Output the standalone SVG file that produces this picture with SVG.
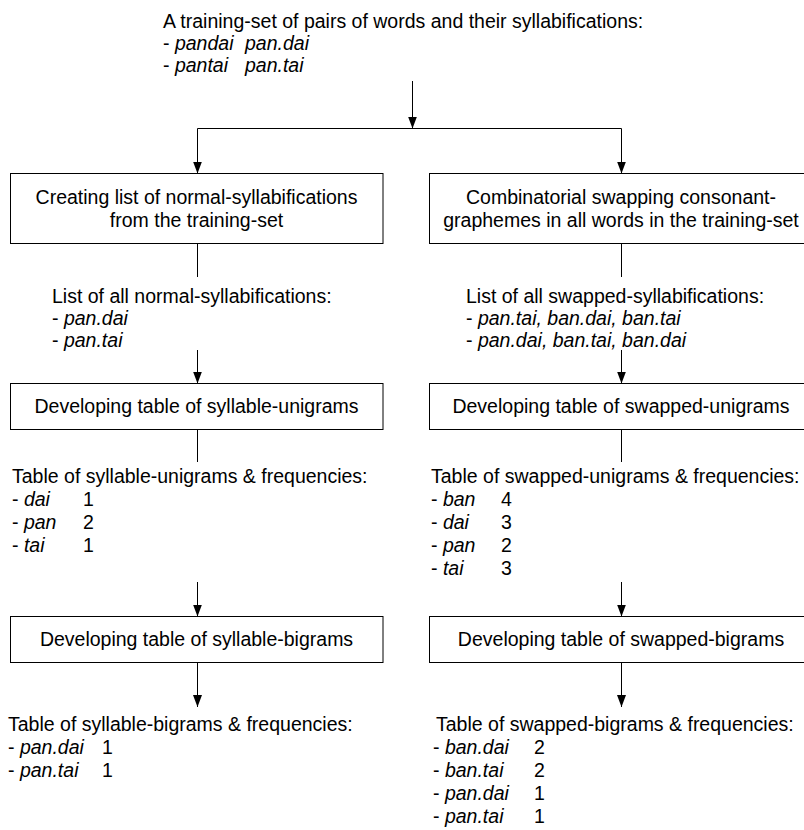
<svg xmlns="http://www.w3.org/2000/svg" width="804" height="830" viewBox="0 0 804 830">
<defs>
<style>
text{font-family:"Liberation Sans",Arial,sans-serif;font-size:19.5px;fill:#000}
.c{text-anchor:middle}
.i{font-style:italic}
.box{fill:#fff;stroke:#000;stroke-width:1}
.ln{stroke:#000;stroke-width:1;fill:none}
.ar{marker-end:url(#ah)}
</style>
<marker id="ah" markerUnits="userSpaceOnUse" markerWidth="12" markerHeight="10" refX="12" refY="4.5" orient="auto">
<path d="M0,0 L12,4.5 L0,9 z" fill="#000"/>
</marker>
</defs>
<rect width="804" height="830" fill="#fff"/>

<g id="connectors">
<line class="ln ar" x1="412.5" y1="81" x2="412.5" y2="128.5"/>
<line class="ln" x1="197.5" y1="128.5" x2="621.5" y2="128.5"/>
<line class="ln ar" x1="197.5" y1="128.5" x2="197.5" y2="173.5"/>
<line class="ln ar" x1="621.5" y1="128.5" x2="621.5" y2="173.5"/>
<line class="ln" x1="197.5" y1="243.5" x2="197.5" y2="277"/>
<line class="ln" x1="621.5" y1="243.5" x2="621.5" y2="277"/>
<line class="ln ar" x1="197.5" y1="350" x2="197.5" y2="383.5"/>
<line class="ln ar" x1="621.5" y1="350" x2="621.5" y2="383.5"/>
<line class="ln" x1="197.5" y1="429.5" x2="197.5" y2="462"/>
<line class="ln" x1="621.5" y1="429.5" x2="621.5" y2="462"/>
<line class="ln ar" x1="197.5" y1="582" x2="197.5" y2="616.5"/>
<line class="ln ar" x1="621.5" y1="582" x2="621.5" y2="616.5"/>
<line class="ln ar" x1="197.5" y1="662.5" x2="197.5" y2="707"/>
<line class="ln ar" x1="621.5" y1="662.5" x2="621.5" y2="707"/>
</g>

<g id="training-set">
<text x="163" y="28">A training-set of pairs of words and their syllabifications:</text>
<text x="163" y="50">- <tspan class="i">pandai</tspan><tspan class="i" x="245">pan.dai</tspan></text>
<text x="163" y="72">- <tspan class="i">pantai</tspan><tspan class="i" x="245">pan.tai</tspan></text>
</g>

<g id="create-normal">
<rect class="box" x="10.5" y="173.5" width="372.5" height="70"/>
<text class="c" x="196.5" y="204">Creating list of normal-syllabifications</text>
<text class="c" x="196.5" y="227">from the training-set</text>
</g>

<g id="combinatorial-swapping">
<rect class="box" x="429.5" y="173.5" width="384" height="70"/>
<text class="c" x="621" y="204">Combinatorial swapping consonant-</text>
<text class="c" x="621" y="227">graphemes in all words in the training-set</text>
</g>

<g id="normal-list">
<text x="52" y="303">List of all normal-syllabifications:</text>
<text x="52" y="325">- <tspan class="i">pan.dai</tspan></text>
<text x="52" y="347">- <tspan class="i">pan.tai</tspan></text>
</g>

<g id="swapped-list">
<text x="466" y="303">List of all swapped-syllabifications:</text>
<text x="466" y="325">- <tspan class="i">pan.tai, ban.dai, ban.tai</tspan></text>
<text x="466" y="347">- <tspan class="i">pan.dai, ban.tai, ban.dai</tspan></text>
</g>

<g id="syllable-unigrams-step">
<rect class="box" x="10.5" y="383.5" width="372.5" height="46"/>
<text class="c" x="196.5" y="413">Developing table of syllable-unigrams</text>
</g>

<g id="swapped-unigrams-step">
<rect class="box" x="429.5" y="383.5" width="384" height="46"/>
<text class="c" x="621" y="413">Developing table of swapped-unigrams</text>
</g>

<g id="syllable-unigrams-table">
<text x="12" y="483">Table of syllable-unigrams &amp; frequencies:</text>
<text x="12" y="506">- <tspan class="i">dai</tspan><tspan x="83">1</tspan></text>
<text x="12" y="529">- <tspan class="i">pan</tspan><tspan x="83">2</tspan></text>
<text x="12" y="552">- <tspan class="i">tai</tspan><tspan x="83">1</tspan></text>
</g>

<g id="swapped-unigrams-table">
<text x="431" y="483">Table of swapped-unigrams &amp; frequencies:</text>
<text x="431" y="506">- <tspan class="i">ban</tspan><tspan x="501">4</tspan></text>
<text x="431" y="529">- <tspan class="i">dai</tspan><tspan x="501">3</tspan></text>
<text x="431" y="552">- <tspan class="i">pan</tspan><tspan x="501">2</tspan></text>
<text x="431" y="575">- <tspan class="i">tai</tspan><tspan x="501">3</tspan></text>
</g>

<g id="syllable-bigrams-step">
<rect class="box" x="10.5" y="616.5" width="372.5" height="46"/>
<text class="c" x="196.5" y="646">Developing table of syllable-bigrams</text>
</g>

<g id="swapped-bigrams-step">
<rect class="box" x="429.5" y="616.5" width="384" height="46"/>
<text class="c" x="621" y="646">Developing table of swapped-bigrams</text>
</g>

<g id="syllable-bigrams-table">
<text x="8" y="731">Table of syllable-bigrams &amp; frequencies:</text>
<text x="8" y="754">- <tspan class="i">pan.dai</tspan><tspan x="102">1</tspan></text>
<text x="8" y="777">- <tspan class="i">pan.tai</tspan><tspan x="102">1</tspan></text>
</g>

<g id="swapped-bigrams-table">
<text x="436" y="731">Table of swapped-bigrams &amp; frequencies:</text>
<text x="433" y="754">- <tspan class="i">ban.dai</tspan><tspan x="534">2</tspan></text>
<text x="433" y="777">- <tspan class="i">ban.tai</tspan><tspan x="534">2</tspan></text>
<text x="433" y="800">- <tspan class="i">pan.dai</tspan><tspan x="534">1</tspan></text>
<text x="433" y="823">- <tspan class="i">pan.tai</tspan><tspan x="534">1</tspan></text>
</g>
</svg>
